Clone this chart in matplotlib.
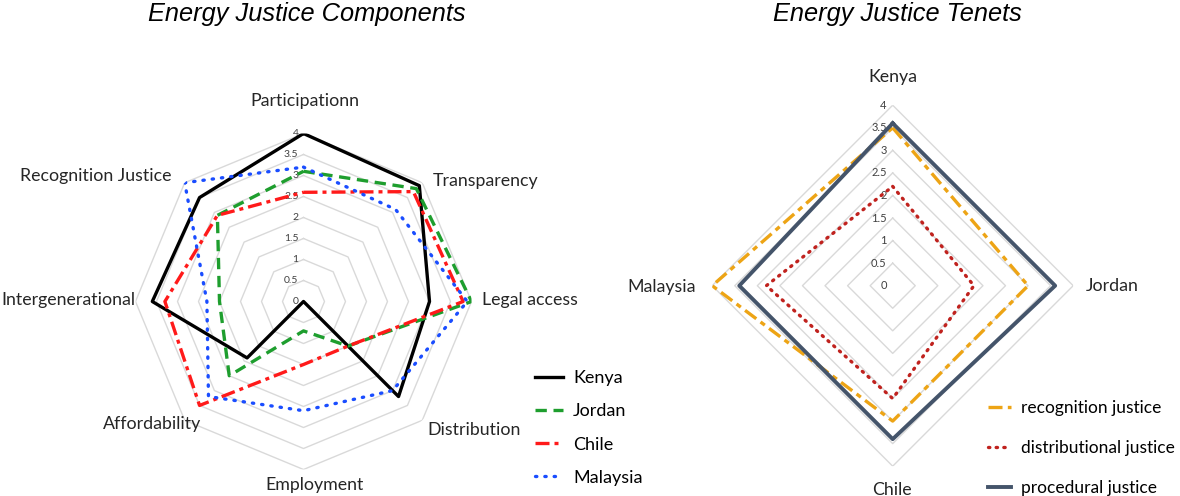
import numpy as np
import matplotlib
matplotlib.use("Agg")
import matplotlib.pyplot as plt
from matplotlib.lines import Line2D
from matplotlib.transforms import offset_copy

# ---------------- data ----------------
components = ["Participationn", "Transparency", "Legal access", "Distribution",
              "Employment", "Affordability", "Intergenerational", "Recognition Justice"]
kenya = [4.0, 3.9, 3.0, 3.2, 0.0, 1.9, 3.6, 3.5]
jordan = [3.1, 3.8, 4.0, 1.5, 0.7, 2.5, 2.0, 2.9]
chile = [2.6, 3.7, 3.8, 1.5, 1.5, 3.5, 3.3, 2.9]
malaysia = [3.2, 3.1, 3.9, 3.0, 2.6, 3.2, 2.3, 4.0]

countries = ["Kenya", "Jordan", "Chile", "Malaysia"]
recognition = [3.5, 3.0, 3.0, 4.0]
distributional = [2.2, 1.8, 2.5, 2.8]
procedural = [3.6, 3.6, 3.4, 3.4]

grid_levels = [0.5, 1, 1.5, 2, 2.5, 3, 3.5, 4]
tick_labels = ["0", "0.5", "1", "1.5", "2", "2.5", "3", "3.5", "4"]
tick_values = [0, 0.5, 1, 1.5, 2, 2.5, 3, 3.5, 4]

W, H = 1180, 496
fig = plt.figure(figsize=(W / 100, H / 100), dpi=100)
LABEL_FONT = "Lato"


def polar_axes(cx, cy, rad):
    rect = [(cx - rad) / W, (H - cy - rad) / H, 2 * rad / W, 2 * rad / H]
    ax = fig.add_axes(rect, projection="polar")
    ax.set_theta_zero_location("N")
    ax.set_theta_direction(-1)
    ax.set_ylim(0, 4)
    ax.grid(False)
    ax.spines["polar"].set_visible(False)
    ax.set_xticks([])
    ax.set_yticks([])
    ax.patch.set_alpha(0)
    return ax


def close(v):
    return list(v) + [v[0]]


def draw_grid(ax, n, fs, dx):
    th = np.linspace(0, 2 * np.pi, n, endpoint=False)
    for lv in grid_levels:
        ax.plot(close(th), [lv] * (n + 1), color="#D9D9D9", lw=1.0, zorder=1)
    tr = offset_copy(ax.transData, fig=fig, x=dx, y=0, units="dots")
    for v, t in zip(tick_values, tick_labels):
        ax.text(0, v, t, transform=tr, ha="right", va="center",
                fontsize=fs, color="#404040", family=LABEL_FONT, zorder=2)
    return th


def place_labels(ax, labels, offsets, scale, fs):
    for lab, (dx, dy) in zip(labels, offsets):
        th = np.arctan2(dx, dy)
        r = np.hypot(dx, dy) / scale
        ax.text(th, r, lab, ha="center", va="center", fontsize=fs,
                color="#262626", family=LABEL_FONT, clip_on=False)


# ---------------- left chart ----------------
axL = polar_axes(303.5, 301.5, 168)
thL = draw_grid(axL, len(components), 7.5, -5)
styles_left = [
    dict(color="black", lw=2.4, ls="-"),
    dict(color="#1E9E2E", lw=2.4, ls=(0, (3.4, 2.0))),
    dict(color="#FF1A1A", lw=2.4, ls=(0, (4.2, 1.5, 1.2, 1.5))),
    dict(color="#1A4DFF", lw=2.4, ls=(0, (0.4, 2.4)), dash_capstyle="round"),
]
for vals, name, st in zip([kenya, jordan, chile, malaysia], countries, styles_left):
    axL.plot(close(thL), close(vals), label=name, zorder=3, **st)
left_offsets = [(1.5, 200.5), (182.5, 120.5), (226.5, 1.5), (170.5, -128.5),
                (11.5, -183.5), (-151.5, -122.5), (-235.5, 1.5), (-207.5, 125.5)]
place_labels(axL, components, left_offsets, 42.0, 12.8)

handlesL = [Line2D([], [], **st) for st in styles_left]
fig.legend(handlesL, countries, loc="upper left", bbox_to_anchor=(519 / W, 1 - 354 / H),
           frameon=False, handlelength=1.55, handletextpad=0.55,
           labelspacing=0.95, prop={"family": LABEL_FONT, "size": 13})

# ---------------- right chart ----------------
axR = polar_axes(892.7, 285.7, 180.5)
thR = draw_grid(axR, len(countries), 8, -6)
styles_right = [
    dict(color="#EDA415", lw=2.4, ls=(0, (4.2, 1.6, 1.6, 1.6))),
    dict(color="#C0221E", lw=2.4, ls=(0, (0.4, 1.9)), dash_capstyle="round"),
    dict(color="#44546A", lw=2.8, ls="-"),
]
names_right = ["recognition justice", "distributional justice", "procedural justice"]
for vals, name, st in zip([recognition, distributional, procedural], names_right, styles_right):
    axR.plot(close(thR), close(vals), label=name, zorder=3, **st)
right_offsets = [(0.3, 208.7), (219.3, -0.3), (-0.7, -204.3), (-230.7, -1.3)]
place_labels(axR, countries, right_offsets, 45.1, 12.8)

handlesR = [Line2D([], [], **st) for st in styles_right]
fig.legend(handlesR, names_right, loc="upper left", bbox_to_anchor=(972 / W, 1 - 384 / H),
           frameon=False, handlelength=1.35, handletextpad=0.55,
           labelspacing=1.4, prop={"family": LABEL_FONT, "size": 12.5})

# ---------------- titles ----------------
fig.text(307 / W, 1 - 21 / H, "Energy Justice Components", ha="center", va="baseline",
         fontsize=18.3, style="italic", family="Liberation Sans", color="black")
fig.text(897 / W, 1 - 21 / H, "Energy Justice Tenets", ha="center", va="baseline",
         fontsize=18.3, style="italic", family="Liberation Sans", color="black")

fig.savefig("out.png", dpi=100, facecolor="white")
